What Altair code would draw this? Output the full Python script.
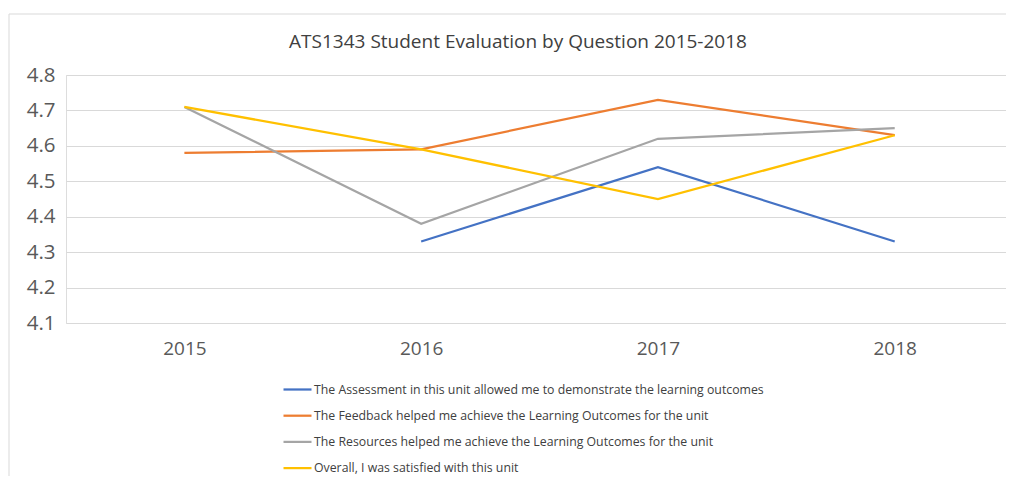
import altair as alt
import pandas as pd

years = [2015, 2016, 2017, 2018]
series_names = [
    "The Assessment in this unit allowed me to demonstrate the learning outcomes",
    "The Feedback helped me achieve the Learning Outcomes for the unit",
    "The Resources helped me achieve the Learning Outcomes for the unit",
    "Overall, I was satisfied with this unit",
]
assessment = [None, 4.33, 4.54, 4.33]
feedback = [4.58, 4.59, 4.73, 4.63]
resources = [4.71, 4.38, 4.62, 4.65]
overall = [4.71, 4.59, 4.45, 4.63]
colors = ["#4472C4", "#ED7D31", "#A5A5A5", "#FFC000"]
y_ticks = [4.1, 4.2, 4.3, 4.4, 4.5, 4.6, 4.7, 4.8]
title_text = "ATS1343 Student  Evaluation by Question 2015-2018"

rows = []
for name, vals in zip(series_names, [assessment, feedback, resources, overall]):
    for yr, v in zip(years, vals):
        if v is not None:
            rows.append({"Year": yr, "Score": v, "Series": name})
df = pd.DataFrame(rows)

W, H = 940, 248
FONT = "Open Sans"

lines = alt.Chart(df).mark_line(strokeWidth=2.25).encode(
    x=alt.X("Year:Q",
            scale=alt.Scale(domain=[2014.5, 2018.47], nice=False, zero=False),
            axis=alt.Axis(values=years, format="d", grid=False, domain=False,
                          ticks=False, labelFontSize=19, labelFont=FONT,
                          labelColor="#595959", labelPadding=16, title=None)),
    y=alt.Y("Score:Q",
            scale=alt.Scale(domain=[4.1, 4.8], nice=False, zero=False),
            axis=alt.Axis(values=y_ticks, format=".1f", grid=True,
                          gridColor="#d9d9d9", gridWidth=1, domain=False,
                          ticks=False, labelFontSize=20.5, labelFont=FONT,
                          labelColor="#595959", labelPadding=11, title=None)),
    color=alt.Color("Series:N",
                    scale=alt.Scale(domain=series_names, range=colors),
                    legend=alt.Legend(title=None, orient="none", legendX=216,
                                      legendY=299, direction="vertical",
                                      symbolType="stroke", symbolSize=784,
                                      symbolStrokeWidth=2.25, labelOffset=1,
                                      labelFont=FONT, labelFontSize=12.3,
                                      labelColor="#404040", labelLimit=600,
                                      rowPadding=4.2)),
    order="Year:Q",
)

one = pd.DataFrame({"k": [0]})
border_top = alt.Chart(one).mark_rule(color="#d9d9d9", strokeWidth=1).encode(
    x=alt.value(-57), x2=alt.value(W), y=alt.value(-61))
border_left = alt.Chart(one).mark_rule(color="#d9d9d9", strokeWidth=1).encode(
    x=alt.value(-57), y=alt.value(-61), y2=alt.value(401))
title = alt.Chart(one).mark_text(font=FONT, fontSize=19, color="#404040",
                                 align="center", baseline="middle").encode(
    x=alt.value(W / 2 - 18), y=alt.value(-33), text=alt.value(title_text))

chart = alt.layer(border_top, border_left, title, lines).properties(
    width=W, height=H,
    padding={"left": 58, "top": 67, "right": 0, "bottom": 153},
    autosize=alt.AutoSizeParams(type="none"),
).configure_view(stroke=None).configure(background="white")

chart.save("out.html", embed_options={"renderer": "svg", "actions": False})
